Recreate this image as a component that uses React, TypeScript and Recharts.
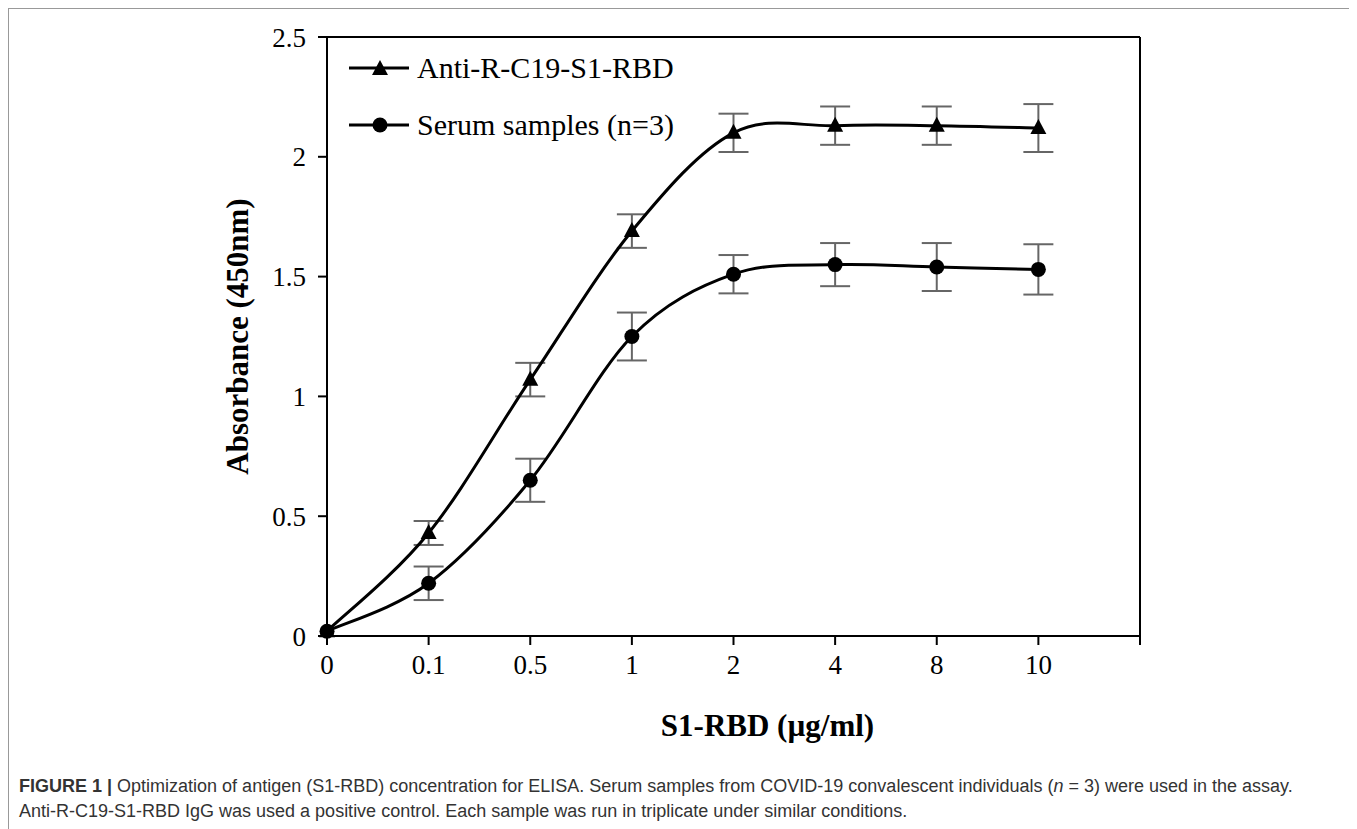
import React from 'react';
import { LineChart, Line, XAxis, YAxis, ErrorBar, ReferenceLine } from 'recharts';

const xLabels = ['0', '0.1', '0.5', '1', '2', '4', '8', '10'];
const yTicks = [0, 0.5, 1, 1.5, 2, 2.5];

const antiValues = [0.02, 0.43, 1.07, 1.69, 2.1, 2.13, 2.13, 2.12];
const antiErrors = [0, 0.05, 0.07, 0.07, 0.08, 0.08, 0.08, 0.1];
const serumValues = [0.02, 0.22, 0.65, 1.25, 1.51, 1.55, 1.54, 1.53];
const serumErrors = [0, 0.07, 0.09, 0.1, 0.08, 0.09, 0.1, 0.105];

const seriesNames = ['Anti-R-C19-S1-RBD', 'Serum samples (n=3)'];

const data = xLabels.map((label, i) => ({
  idx: i,
  label,
  anti: antiValues[i],
  antiErr: antiErrors[i],
  serum: serumValues[i],
  serumErr: serumErrors[i],
}));

const serif = '"Liberation Serif", "Times New Roman", serif';

// Excel-style smoothed line (Catmull-Rom as cubic bezier)
const smoothCurve = (context: any) => {
  let pts: number[][] = [];
  return {
    areaStart() {},
    areaEnd() {},
    lineStart() {
      pts = [];
    },
    point(x: number, y: number) {
      pts.push([x, y]);
    },
    lineEnd() {
      if (!pts.length) return;
      context.moveTo(pts[0][0], pts[0][1]);
      for (let i = 0; i < pts.length - 1; i++) {
        const p0 = pts[i - 1] || pts[i];
        const p1 = pts[i];
        const p2 = pts[i + 1];
        const p3 = pts[i + 2] || p2;
        context.bezierCurveTo(
          p1[0] + (p2[0] - p0[0]) / 6,
          p1[1] + (p2[1] - p0[1]) / 6,
          p2[0] - (p3[0] - p1[0]) / 6,
          p2[1] - (p3[1] - p1[1]) / 6,
          p2[0],
          p2[1]
        );
      }
    },
  };
};

const Triangle = ({ cx, cy }: { cx: number; cy: number }) => (
  <polygon points={`${cx},${cy - 9} ${cx - 8},${cy + 6} ${cx + 8},${cy + 6}`} fill="#000" />
);

const Circle = ({ cx, cy }: { cx: number; cy: number }) => <circle cx={cx} cy={cy} r={7.5} fill="#000" />;

const LegendBox = () => (
  <div style={{ position: 'absolute', left: 340, top: 30, fontFamily: serif, fontSize: 30, color: '#000' }}>
    {seriesNames.map((name, i) => (
      <div key={name} style={{ display: 'flex', alignItems: 'center', height: 57 }}>
        <svg width={68} height={24}>
          <line x1={0} y1={12} x2={60} y2={12} stroke="#000" strokeWidth={3} />
          {i === 0 ? <Triangle cx={31} cy={13} /> : <Circle cx={31} cy={12} />}
        </svg>
        <span>{name}</span>
      </div>
    ))}
  </div>
);

export default function App() {
  return (
    <div
      style={{
        width: 1346,
        height: 830,
        border: '1px solid #999',
        position: 'relative',
        background: '#fff',
      }}
    >
      <LineChart width={1160} height={737} data={data} margin={{ top: 28, right: 29, left: 208, bottom: 0 }}>
        <XAxis
          dataKey="idx"
          type="number"
          domain={[0, 8]}
          ticks={[0, 1, 2, 3, 4, 5, 6, 7, 8]}
          tickFormatter={(v: number) => xLabels[v] ?? ''}
          height={110}
          stroke="#000"
          strokeWidth={2}
          tickSize={9}
          tickMargin={10}
          tick={{ fontFamily: serif, fontSize: 27, fill: '#000' }}
          label={{
            content: (p: any) => (
              <text
                x={p.viewBox.x + p.viewBox.width / 2 + 34}
                y={p.viewBox.y + 100}
                textAnchor="middle"
                fontFamily={serif}
                fontWeight="bold"
                fontSize={31}
                fill="#000"
              >
                S1-RBD (µg/ml)
              </text>
            ),
          }}
        />
        <YAxis
          type="number"
          domain={[0, 2.5]}
          ticks={yTicks}
          width={110}
          stroke="#000"
          strokeWidth={2}
          tickSize={9}
          tickMargin={12}
          tick={{ fontFamily: serif, fontSize: 27, fill: '#000' }}
          label={{
            content: (p: any) => {
              const x = p.viewBox.x + 20;
              const y = p.viewBox.y + p.viewBox.height / 2;
              return (
                <text
                  x={x}
                  y={y}
                  transform={`rotate(-90, ${x}, ${y})`}
                  textAnchor="middle"
                  dominantBaseline="central"
                  fontFamily={serif}
                  fontWeight="bold"
                  fontSize={31}
                  fill="#000"
                >
                  Absorbance (450nm)
                </text>
              );
            },
          }}
        />
        <ReferenceLine y={2.5} stroke="#000" strokeWidth={2} />
        <ReferenceLine x={8} stroke="#000" strokeWidth={2} />
        <Line
          dataKey="anti"
          name={seriesNames[0]}
          type={smoothCurve as any}
          stroke="#000"
          strokeWidth={3}
          isAnimationActive={false}
          dot={(p: any) => <Triangle key={`t-${p.index}`} cx={p.cx} cy={p.cy} />}
          activeDot={false}
        >
          <ErrorBar dataKey="antiErr" width={15} stroke="#666" strokeWidth={2} />
        </Line>
        <Line
          dataKey="serum"
          name={seriesNames[1]}
          type={smoothCurve as any}
          stroke="#000"
          strokeWidth={3}
          isAnimationActive={false}
          dot={(p: any) => <Circle key={`c-${p.index}`} cx={p.cx} cy={p.cy} />}
          activeDot={false}
        >
          <ErrorBar dataKey="serumErr" width={15} stroke="#666" strokeWidth={2} />
        </Line>
      </LineChart>
      <LegendBox />
      <div
        style={{
          position: 'absolute',
          left: 10,
          top: 765,
          fontFamily: '"Liberation Sans", Arial, sans-serif',
          fontSize: 18,
          lineHeight: '25px',
          color: '#333',
        }}
      >
        <div>
          <b>FIGURE 1 |</b> Optimization of antigen (S1-RBD) concentration for ELISA. Serum samples from COVID-19
          convalescent individuals (<i>n</i> = 3) were used in the assay.
        </div>
        <div>Anti-R-C19-S1-RBD IgG was used a positive control. Each sample was run in triplicate under similar conditions.</div>
      </div>
    </div>
  );
}
